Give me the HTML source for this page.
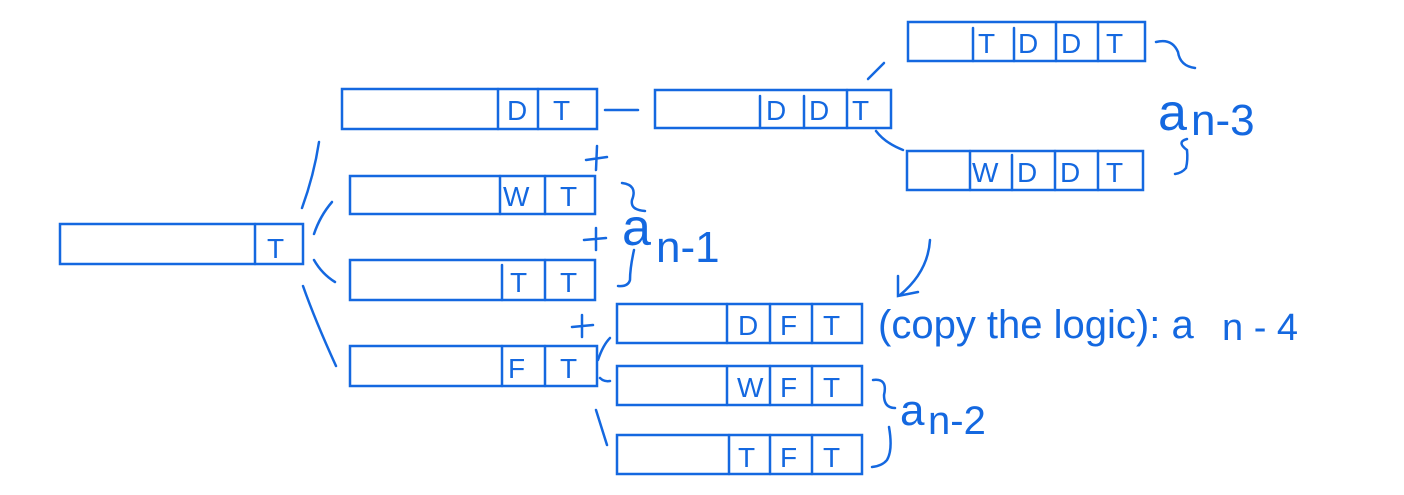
<!DOCTYPE html>
<html><head><meta charset="utf-8"><style>
html,body{margin:0;padding:0;background:#fff;}
svg{display:block}
text{font-family:"Liberation Sans",sans-serif;fill:#1468e0;}
</style></head><body>
<svg width="1404" height="495" viewBox="0 0 1404 495" xmlns="http://www.w3.org/2000/svg">
<g fill="none" stroke="#1468e0" stroke-width="2.5" stroke-linecap="round">
<rect x="60" y="224" width="243" height="40"/><line x1="255" y1="224" x2="255" y2="264"/>
<rect x="342" y="89" width="255" height="40"/><line x1="498" y1="89" x2="498" y2="129"/><line x1="538" y1="89" x2="538" y2="129"/>
<rect x="655" y="90" width="236" height="38"/><line x1="760" y1="96" x2="760" y2="128"/><line x1="804" y1="96" x2="804" y2="128"/><line x1="847" y1="90" x2="847" y2="128"/>
<rect x="908" y="22" width="237" height="39"/><line x1="973" y1="28" x2="973" y2="61"/><line x1="1014" y1="28" x2="1014" y2="61"/><line x1="1056" y1="22" x2="1056" y2="61"/><line x1="1098" y1="22" x2="1098" y2="61"/>
<rect x="907" y="151" width="236" height="39"/><line x1="970" y1="151" x2="970" y2="190"/><line x1="1012" y1="155" x2="1012" y2="190"/><line x1="1055" y1="151" x2="1055" y2="190"/><line x1="1098" y1="151" x2="1098" y2="190"/>
<rect x="350" y="176" width="245" height="38"/><line x1="500" y1="176" x2="500" y2="214"/><line x1="545" y1="176" x2="545" y2="214"/>
<rect x="350" y="260" width="245" height="40"/><line x1="502" y1="265" x2="502" y2="300"/><line x1="545" y1="260" x2="545" y2="300"/>
<rect x="350" y="346" width="247" height="40"/><line x1="502" y1="346" x2="502" y2="386"/><line x1="545" y1="346" x2="545" y2="386"/>
<rect x="617" y="304" width="245" height="39"/><line x1="727" y1="304" x2="727" y2="343"/><line x1="770" y1="304" x2="770" y2="343"/><line x1="812" y1="304" x2="812" y2="343"/>
<rect x="617" y="366" width="245" height="39"/><line x1="727" y1="366" x2="727" y2="405"/><line x1="770" y1="366" x2="770" y2="405"/><line x1="812" y1="366" x2="812" y2="405"/>
<rect x="617" y="435" width="245" height="39"/><line x1="729" y1="435" x2="729" y2="474"/><line x1="770" y1="435" x2="770" y2="474"/><line x1="812" y1="435" x2="812" y2="474"/>
<path d="M319 142 Q314 175 302 208"/>
<path d="M332 202 Q320 216 314 234"/>
<path d="M314 260 Q322 274 335 282"/>
<path d="M303 286 Q315 320 336 366"/>
<path d="M605 110 L638 110"/>
<path d="M868 79 L884 63"/>
<path d="M876 131 Q885 143 903 150"/>
<path d="M598 360 Q603 345 610 338"/>
<path d="M600 378 Q604 382 610 381"/>
<path d="M596 410 L607 445"/>
<path d="M586 160 L607 157 M597 146 L596 170"/>
<path d="M584 240 L606 238 M596 228 L596 250"/>
<path d="M572 327 L593 325 M582 315 L582 337"/>
<path d="M622 183 Q638 185 632 200 Q630 210 645 211"/>
<path d="M634 250 Q630 268 630 280 Q628 287 618 286"/>
<path d="M1156 42 Q1172 38 1178 52 Q1180 66 1195 68"/>
<path d="M1187 139 Q1176 142 1187 150 Q1188 160 1186 168 Q1182 173 1175 174"/>
<path d="M873 380 Q888 378 884 395 Q884 408 895 408"/>
<path d="M889 427 Q893 450 887 460 Q882 466 872 467"/>
<path d="M930 240 Q928 272 900 295"/>
<path d="M898 276 L898 296 L918 292"/>
</g>
<g font-size="28">
<text x="267" y="258">T</text>
<text x="507" y="120">D</text><text x="553" y="120">T</text>
<text x="503" y="206">W</text><text x="560" y="206">T</text>
<text x="510" y="292">T</text><text x="560" y="292">T</text>
<text x="508" y="378">F</text><text x="560" y="378">T</text>
<text x="766" y="120">D</text><text x="809" y="120">D</text><text x="852" y="120">T</text>
<text x="978" y="53">T</text><text x="1018" y="53">D</text><text x="1061" y="53">D</text><text x="1106" y="53">T</text>
<text x="972" y="182">W</text><text x="1017" y="182">D</text><text x="1060" y="182">D</text><text x="1106" y="182">T</text>
<text x="738" y="335">D</text><text x="780" y="335">F</text><text x="823" y="335">T</text>
<text x="737" y="397">W</text><text x="780" y="397">F</text><text x="823" y="397">T</text>
<text x="738" y="467">T</text><text x="780" y="467">F</text><text x="823" y="467">T</text>
</g>
<text x="622" y="245" font-size="52">a</text><text x="656" y="262" font-size="44">n-1</text>
<text x="1158" y="130" font-size="52">a</text><text x="1191" y="135" font-size="44">n-3</text>
<text x="900" y="425" font-size="44">a</text><text x="928" y="434" font-size="40">n-2</text>
<text x="878" y="338" font-size="40">(copy the logic): a</text><text x="1222" y="340" font-size="38">n - 4</text>
</svg>
</body></html>
